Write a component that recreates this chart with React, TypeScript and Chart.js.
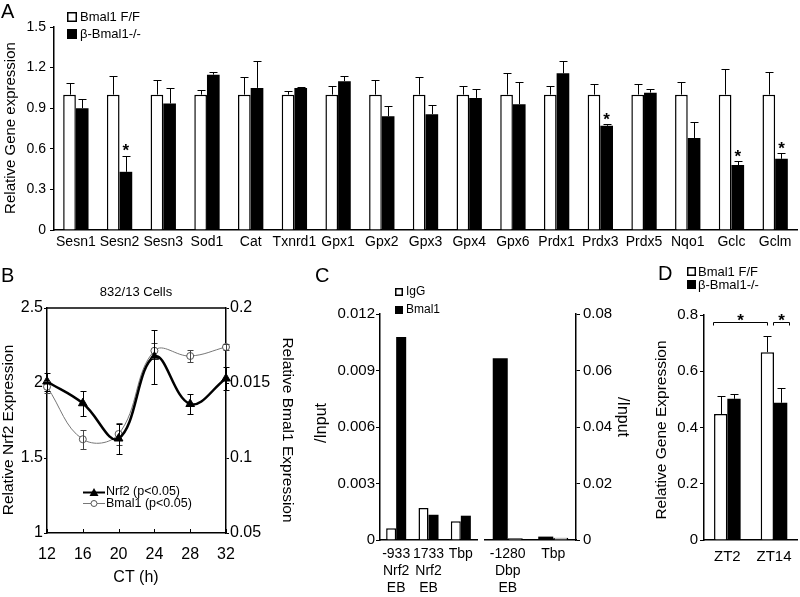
import { useEffect, useRef } from "react";
import { Chart, registerables } from "chart.js";

Chart.register(...registerables);

const FONT = "'Liberation Sans', Arial, Helvetica, sans-serif";
Chart.defaults.font.family = FONT;
Chart.defaults.color = "#000";

// ---------------- Panel A ----------------
const A_GENES = ["Sesn1", "Sesn2", "Sesn3", "Sod1", "Cat", "Txnrd1", "Gpx1", "Gpx2", "Gpx3", "Gpx4", "Gpx6", "Prdx1", "Prdx3", "Prdx5", "Nqo1", "Gclc", "Gclm"];
const A_FF = [1, 1, 1, 1, 1, 1, 1, 1, 1, 1, 1, 1, 1, 1, 1, 1, 1];
const A_FF_ERR = [0.087, 0.136, 0.106, 0.037, 0.13, 0.03, 0.067, 0.106, 0.13, 0.065, 0.16, 0.065, 0.08, 0.08, 0.097, 0.19, 0.165];
const A_KO = [0.9, 0.43, 0.935, 1.148, 1.05, 1.05, 1.1, 0.84, 0.856, 0.976, 0.93, 1.158, 0.77, 1.015, 0.68, 0.48, 0.526];
const A_KO_ERR = [0.07, 0.12, 0.115, 0.022, 0.2, 0.01, 0.04, 0.075, 0.071, 0.064, 0.16, 0.092, 0.01, 0.025, 0.12, 0.03, 0.044];
const A_SIG = [1, 12, 15, 16];
const A_TICKS = [0, 0.3, 0.6, 0.9, 1.2, 1.5];
const A_TICK_LABELS = ["0", "0.3", "0.6", "0.9", "1.2", "1.5"];

// ---------------- Panel B ----------------
const B_CT = [12, 16, 20, 24, 28, 32];
const B_NRF2 = [2.01, 1.865, 1.63, 2.175, 1.86, 2.03];
const B_NRF2_ERR = [0.06, 0.085, 0.1, 0.18, 0.065, 0.075];
const B_BMAL1 = [0.1475, 0.1125, 0.116, 0.1715, 0.168, 0.174];
const B_BMAL1_ERR = [0.004, 0.0065, 0.0075, 0.005, 0.004, 0.002];
const B_X_TICKS = [12, 16, 20, 24, 28, 32];
const B_LEFT_TICKS = [1, 1.5, 2, 2.5];
const B_LEFT_TICK_LABELS = ["1", "1.5", "2", "2.5"];
const B_RIGHT_TICKS = [0.05, 0.1, 0.15, 0.2];
const B_RIGHT_TICK_LABELS = ["0.05", "0.1", "0.015", "0.2"];

// ---------------- Panel C ----------------
const C_LEFT_LABELS = [["-933", "Nrf2", "EB"], ["1733", "Nrf2", "EB"], ["Tbp"]];
const C_LEFT_IGG = [0.00062, 0.0017, 0.001];
const C_LEFT_BMAL1 = [0.01078, 0.00134, 0.00129];
const C_RIGHT_LABELS = [["-1280", "Dbp", "EB"], ["Tbp"]];
const C_RIGHT_BMAL1 = [0.0643, 0.0012];
const C_RIGHT_IGG = [0.0006, 0.0008];
const C_LEFT_TICKS = [0, 0.003, 0.006, 0.009, 0.012];
const C_LEFT_TICK_LABELS = ["0", "0.003", "0.006", "0.009", "0.012"];
const C_RIGHT_TICKS = [0, 0.02, 0.04, 0.06, 0.08];
const C_RIGHT_TICK_LABELS = ["0", "0.02", "0.04", "0.06", "0.08"];

// ---------------- Panel D ----------------
const D_LABELS = ["ZT2", "ZT14"];
const D_FF = [0.448, 0.668];
const D_FF_ERR = [0.064, 0.057];
const D_KO = [0.502, 0.488];
const D_KO_ERR = [0.018, 0.052];
const D_TICKS = [0, 0.2, 0.4, 0.6, 0.8];
const D_TICK_LABELS = ["0", "0.2", "0.4", "0.6", "0.8"];
const D_BRACKETS = [
  { from: -0.3, to: 0.85, at: 0.775 },
  { from: 0.97, to: 1.33, at: 0.775 },
];

// ---------------- helpers ----------------
function fnt(size: number, weight = "normal") {
  return `${weight} ${size}px ${FONT}`;
}

function drawText(ctx: any, s: string, x: number, y: number, size: number, opts: any = {}) {
  ctx.save();
  ctx.font = fnt(size, opts.bold ? "bold" : "normal");
  ctx.fillStyle = opts.color || "#000";
  ctx.textAlign = opts.align || "center";
  ctx.textBaseline = "middle";
  ctx.translate(x, y);
  if (opts.rot) ctx.rotate(opts.rot);
  ctx.fillText(s, 0, 0);
  ctx.restore();
}

function drawSquare(ctx: any, x: number, y: number, size: number, fill: string) {
  ctx.save();
  ctx.fillStyle = fill;
  ctx.fillRect(x, y, size, size);
  ctx.strokeStyle = "#000";
  ctx.lineWidth = 1.5;
  ctx.strokeRect(x + 0.75, y + 0.75, size - 1.5, size - 1.5);
  ctx.restore();
}

function drawStar(ctx: any, x: number, cy: number, size: number) {
  ctx.save();
  ctx.font = fnt(size, "bold");
  ctx.fillStyle = "#000";
  ctx.textAlign = "center";
  ctx.textBaseline = "alphabetic";
  ctx.fillText("*", x, cy + size * 0.57);
  ctx.restore();
}

function drawErrors(chart: any, dsIndex: number, vals: number[], errs: number[], yId: string, cap: number, both: boolean, color: string) {
  const meta = chart.getDatasetMeta(dsIndex);
  const ys = chart.scales[yId];
  const ctx = chart.ctx;
  ctx.save();
  ctx.strokeStyle = color;
  ctx.lineWidth = 1;
  meta.data.forEach((el: any, j: number) => {
    const v = vals[j];
    const e = errs[j];
    const x = Math.round(el.x) + 0.5;
    const yTop = Math.round(ys.getPixelForValue(v + e)) + 0.5;
    const yBot = both ? Math.round(ys.getPixelForValue(v - e)) + 0.5 : ys.getPixelForValue(v);
    ctx.beginPath();
    ctx.moveTo(x, yBot);
    ctx.lineTo(x, yTop);
    ctx.moveTo(x - cap / 2, yTop);
    ctx.lineTo(x + cap / 2, yTop);
    if (both) {
      ctx.moveTo(x - cap / 2, yBot);
      ctx.lineTo(x + cap / 2, yBot);
    }
    ctx.stroke();
  });
  ctx.restore();
}

const setTicks = (vals: number[]) => (s: any) => {
  s.ticks = vals.map((v) => ({ value: v }));
};
const setWidth = (w: number) => (s: any) => {
  s.width = w;
};
const setHeight = (h: number) => (s: any) => {
  s.height = h;
};

function yAxis(ticks: number[], labels: string[], min: number, max: number, size: number, pad: number, width: number, tickLen: number, position = "left") {
  return {
    position,
    min,
    max,
    grid: { drawOnChartArea: false, drawTicks: true, tickLength: tickLen, color: "#000", lineWidth: 1 },
    border: { display: true, color: "#000", width: 1.5 },
    ticks: { color: "#000", font: { size }, padding: pad, callback: (_v: any, i: number) => labels[i] },
    afterBuildTicks: setTicks(ticks),
    afterFit: setWidth(width),
  };
}

function catAxis(size: number, pad: number, height: number) {
  return {
    grid: { display: false, drawTicks: false },
    border: { display: true, color: "#000", width: 1.5 },
    ticks: { color: "#000", font: { size }, padding: pad, maxRotation: 0, autoSkip: false },
    afterFit: setHeight(height),
  };
}

const baseOpts = {
  responsive: false,
  animation: false,
  devicePixelRatio: 1,
  events: [],
  plugins: { legend: { display: false }, tooltip: { enabled: false } },
};

// ---------------- configs ----------------
function cfgA(): any {
  return {
    type: "bar",
    data: {
      labels: A_GENES,
      datasets: [
        { label: "Bmal1 F/F", data: A_FF, backgroundColor: "#fff", borderColor: "#000", borderWidth: 1.5, categoryPercentage: 0.58, barPercentage: 1 },
        { label: "β-Bmal1-/-", data: A_KO, backgroundColor: "#000", borderColor: "#000", borderWidth: 0, categoryPercentage: 0.58, barPercentage: 1 },
      ],
    },
    options: {
      ...baseOpts,
      layout: { padding: { left: 14, top: 27, right: 3, bottom: 337 } },
      scales: {
        x: catAxis(14, 4, 30),
        y: yAxis(A_TICKS, A_TICK_LABELS, 0, 1.5, 14, 4, 40, 4),
      },
    },
    plugins: [
      {
        id: "decorA",
        afterDatasetsDraw(chart: any) {
          const ctx = chart.ctx;
          drawErrors(chart, 0, A_FF, A_FF_ERR, "y", 8, false, "#000");
          drawErrors(chart, 1, A_KO, A_KO_ERR, "y", 8, false, "#000");
          const meta = chart.getDatasetMeta(1);
          const ys = chart.scales.y;
          A_SIG.forEach((i) => {
            const el: any = meta.data[i];
            const top = ys.getPixelForValue(A_KO[i] + A_KO_ERR[i]);
            drawStar(ctx, el.x, top - 9, 17);
          });
          drawText(ctx, "A", 1, 12, 20, { align: "left" });
          drawText(ctx, "Relative Gene expression", 11, 128, 15, { rot: -Math.PI / 2 });
          drawSquare(ctx, 67, 12, 10, "#fff");
          drawSquare(ctx, 67, 29, 10, "#000");
          drawText(ctx, "Bmal1 F/F", 80, 17, 13, { align: "left" });
          drawText(ctx, "β-Bmal1-/-", 80, 34, 13, { align: "left" });
        },
      },
    ],
  };
}

function cfgB(): any {
  return {
    type: "line",
    data: {
      datasets: [
        {
          label: "Nrf2 (p<0.05)",
          data: B_CT.map((x, i) => ({ x, y: B_NRF2[i] })),
          yAxisID: "y",
          borderColor: "#000",
          borderWidth: 2.5,
          tension: 0.4,
          pointStyle: "triangle",
          pointRadius: 5,
          pointBackgroundColor: "#000",
          pointBorderColor: "#000",
          pointBorderWidth: 1,
          clip: false,
        },
        {
          label: "Bmal1 (p<0.05)",
          data: B_CT.map((x, i) => ({ x, y: B_BMAL1[i] })),
          yAxisID: "y1",
          borderColor: "#777",
          borderWidth: 1,
          tension: 0.4,
          pointStyle: "circle",
          pointRadius: 3.5,
          pointBackgroundColor: "#fff",
          pointBorderColor: "#555",
          pointBorderWidth: 1,
          clip: false,
        },
      ],
    },
    options: {
      ...baseOpts,
      layout: { padding: { left: 7, top: 308, right: 524, bottom: 24 } },
      scales: {
        x: {
          type: "linear",
          min: 12,
          max: 32,
          grid: { display: false, drawTicks: false },
          border: { display: true, color: "#000", width: 1.5 },
          ticks: { color: "#000", font: { size: 16 }, padding: 12 },
          afterBuildTicks: setTicks(B_X_TICKS),
          afterFit: setHeight(40),
        },
        y: yAxis(B_LEFT_TICKS, B_LEFT_TICK_LABELS, 1, 2.5, 16, 1, 40, 3),
        y1: yAxis(B_RIGHT_TICKS, B_RIGHT_TICK_LABELS, 0.05, 0.2, 16, 1, 50, 3, "right"),
      },
    },
    plugins: [
      {
        id: "decorB",
        afterDatasetsDraw(chart: any) {
          const ctx = chart.ctx;
          const a = chart.chartArea;
          drawErrors(chart, 1, B_BMAL1, B_BMAL1_ERR, "y1", 6, true, "#444");
          drawErrors(chart, 0, B_NRF2, B_NRF2_ERR, "y", 6, true, "#000");
          ctx.save();
          ctx.strokeStyle = "#000";
          ctx.lineWidth = 1.5;
          ctx.beginPath();
          ctx.moveTo(a.left, a.top);
          ctx.lineTo(a.right, a.top);
          ctx.stroke();
          ctx.lineWidth = 1;
          const xs = chart.scales.x;
          B_X_TICKS.forEach((t) => {
            const x = Math.round(xs.getPixelForValue(t)) + 0.5;
            ctx.beginPath();
            ctx.moveTo(x, a.bottom);
            ctx.lineTo(x, a.bottom - 4);
            ctx.stroke();
          });
          // legend
          ctx.lineWidth = 2;
          ctx.beginPath();
          ctx.moveTo(83, 492.5);
          ctx.lineTo(105, 492.5);
          ctx.stroke();
          ctx.fillStyle = "#000";
          ctx.beginPath();
          ctx.moveTo(94, 488);
          ctx.lineTo(98.5, 496);
          ctx.lineTo(89.5, 496);
          ctx.closePath();
          ctx.fill();
          ctx.strokeStyle = "#777";
          ctx.lineWidth = 1;
          ctx.beginPath();
          ctx.moveTo(83, 503.5);
          ctx.lineTo(105, 503.5);
          ctx.stroke();
          ctx.fillStyle = "#fff";
          ctx.strokeStyle = "#555";
          ctx.beginPath();
          ctx.arc(94, 503.5, 3, 0, Math.PI * 2);
          ctx.fill();
          ctx.stroke();
          ctx.restore();
          drawText(ctx, "Nrf2 (p<0.05)", 106, 492, 12.5, { align: "left" });
          drawText(ctx, "Bmal1 (p<0.05)", 106, 503.5, 12.5, { align: "left" });
          drawText(ctx, "B", 1, 276, 20, { align: "left" });
          drawText(ctx, "832/13 Cells", 136, 292, 13);
          drawText(ctx, "CT (h)", 136, 578, 16);
          drawText(ctx, "Relative Nrf2 Expression", 9, 430, 15.5, { rot: -Math.PI / 2 });
          drawText(ctx, "Relative Bmal1 Expression", 287, 430, 15.5, { rot: Math.PI / 2 });
        },
      },
    ],
  };
}

function cfgCLeft(): any {
  return {
    type: "bar",
    data: {
      labels: C_LEFT_LABELS,
      datasets: [
        { label: "IgG", data: C_LEFT_IGG, backgroundColor: "#fff", borderColor: "#000", borderWidth: 1.5, categoryPercentage: 0.62, barPercentage: 1 },
        { label: "Bmal1", data: C_LEFT_BMAL1, backgroundColor: "#000", borderColor: "#000", borderWidth: 0, categoryPercentage: 0.62, barPercentage: 1 },
      ],
    },
    options: {
      ...baseOpts,
      layout: { padding: { left: 330, top: 314, right: 323, bottom: 2 } },
      scales: {
        x: catAxis(14, 6, 55),
        y: yAxis(C_LEFT_TICKS, C_LEFT_TICK_LABELS, 0, 0.012, 15, 1, 50, 4),
      },
    },
    plugins: [
      {
        id: "decorC",
        afterDatasetsDraw(chart: any) {
          const ctx = chart.ctx;
          drawText(ctx, "C", 315, 276, 20, { align: "left" });
          drawSquare(ctx, 395, 288, 8, "#fff");
          drawSquare(ctx, 395, 306, 8, "#000");
          drawText(ctx, "IgG", 406, 292, 12, { align: "left" });
          drawText(ctx, "Bmal1", 406, 310, 12, { align: "left" });
          drawText(ctx, "/Input", 322, 423, 16, { rot: -Math.PI / 2 });
        },
      },
    ],
  };
}

function cfgCRight(): any {
  return {
    type: "bar",
    data: {
      labels: C_RIGHT_LABELS,
      datasets: [
        { label: "Bmal1", data: C_RIGHT_BMAL1, backgroundColor: "#000", borderColor: "#000", borderWidth: 0, categoryPercentage: 0.66, barPercentage: 1 },
        { label: "IgG", data: C_RIGHT_IGG, backgroundColor: "#fff", borderColor: "#000", borderWidth: 1.5, categoryPercentage: 0.66, barPercentage: 1 },
      ],
    },
    options: {
      ...baseOpts,
      layout: { padding: { left: 485, top: 314, right: 184, bottom: 2 } },
      scales: {
        x: catAxis(14, 6, 55),
        y: yAxis(C_RIGHT_TICKS, C_RIGHT_TICK_LABELS, 0, 0.08, 15, 3, 40, 4, "right"),
      },
    },
    plugins: [
      {
        id: "decorC2",
        afterDatasetsDraw(chart: any) {
          drawText(chart.ctx, "/Input", 622, 417, 16, { rot: Math.PI / 2 });
        },
      },
    ],
  };
}

function cfgD(): any {
  return {
    type: "bar",
    data: {
      labels: D_LABELS,
      datasets: [
        { label: "Bmal1 F/F", data: D_FF, backgroundColor: "#fff", borderColor: "#000", borderWidth: 1.5, categoryPercentage: 0.57, barPercentage: 1 },
        { label: "β-Bmal1-/-", data: D_KO, backgroundColor: "#000", borderColor: "#000", borderWidth: 0, categoryPercentage: 0.57, barPercentage: 1 },
      ],
    },
    options: {
      ...baseOpts,
      layout: { padding: { left: 664, top: 315, right: 2, bottom: 27 } },
      scales: {
        x: catAxis(15, 8, 30),
        y: yAxis(D_TICKS, D_TICK_LABELS, 0, 0.8, 15, 2, 40, 4),
      },
    },
    plugins: [
      {
        id: "decorD",
        afterDatasetsDraw(chart: any) {
          const ctx = chart.ctx;
          drawErrors(chart, 0, D_FF, D_FF_ERR, "y", 8, false, "#000");
          drawErrors(chart, 1, D_KO, D_KO_ERR, "y", 8, false, "#000");
          const xs = chart.scales.x;
          const ys = chart.scales.y;
          ctx.save();
          ctx.strokeStyle = "#000";
          ctx.lineWidth = 1;
          D_BRACKETS.forEach((b) => {
            const x1 = Math.round(xs.getPixelForValue(b.from)) + 0.5;
            const x2 = Math.round(xs.getPixelForValue(b.to)) + 0.5;
            const y = Math.round(ys.getPixelForValue(b.at)) + 0.5;
            ctx.beginPath();
            ctx.moveTo(x1, y + 3);
            ctx.lineTo(x1, y);
            ctx.lineTo(x2, y);
            ctx.lineTo(x2, y + 3);
            ctx.stroke();
            drawStar(ctx, (x1 + x2) / 2, y - 6, 17);
          });
          ctx.restore();
          drawText(ctx, "D", 658, 274, 20, { align: "left" });
          drawSquare(ctx, 687, 267, 9, "#fff");
          drawSquare(ctx, 687, 280, 9, "#000");
          drawText(ctx, "Bmal1 F/F", 698, 272, 13, { align: "left" });
          drawText(ctx, "β-Bmal1-/-", 698, 285, 13, { align: "left" });
          drawText(ctx, "Relative Gene Expression", 662, 430, 15.5, { rot: -Math.PI / 2 });
        },
      },
    ],
  };
}

export default function App() {
  const r0 = useRef<HTMLCanvasElement>(null);
  const r1 = useRef<HTMLCanvasElement>(null);
  const r2 = useRef<HTMLCanvasElement>(null);
  const r3 = useRef<HTMLCanvasElement>(null);
  const r4 = useRef<HTMLCanvasElement>(null);
  const refs = [r0, r1, r2, r3, r4];

  useEffect(() => {
    const makers = [cfgA, cfgB, cfgCLeft, cfgCRight, cfgD];
    const charts = makers.map((m, i) => new Chart(refs[i].current as HTMLCanvasElement, m()));
    return () => charts.forEach((c) => c.destroy());
  }, []);

  return (
    <div style={{ position: "absolute", left: 0, top: 0, width: 800, height: 597, background: "#fff", overflow: "hidden" }}>
      {refs.map((r, i) => (
        <canvas key={i} ref={r} width={800} height={597} style={{ position: "absolute", left: 0, top: 0, width: 800, height: 597 }} />
      ))}
    </div>
  );
}
